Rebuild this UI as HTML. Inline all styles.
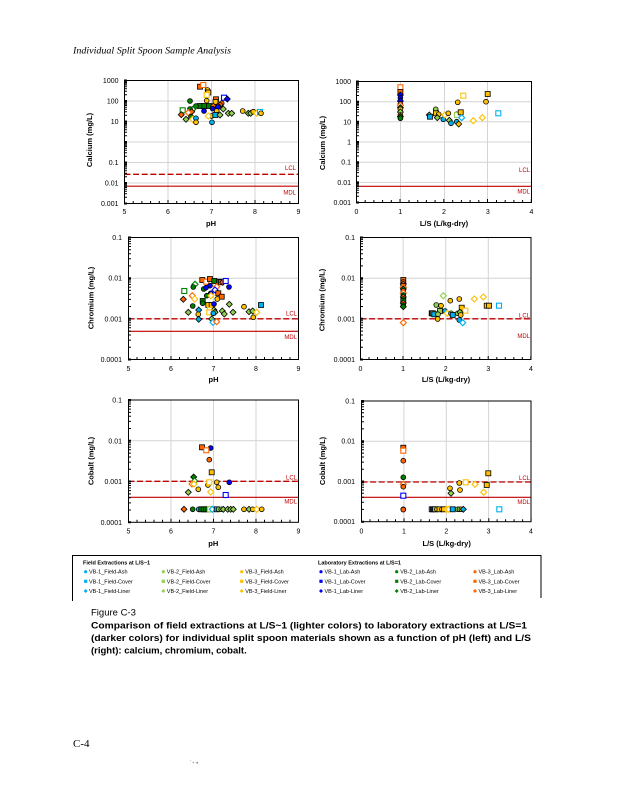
<!DOCTYPE html>
<html><head><meta charset="utf-8"><style>
html,body{margin:0;padding:0;background:#fff}
svg{display:block}
.t{font-family:"Liberation Sans",Arial,sans-serif;font-size:7px;fill:#000}
.ax{font-family:"Liberation Sans",Arial,sans-serif;font-size:7.5px;font-weight:bold;fill:#000}
.rd{font-family:"Liberation Sans",Arial,sans-serif;font-size:6px;fill:#C00000}
.lg{font-family:"Liberation Sans",Arial,sans-serif;font-size:5.5px;fill:#000}
.grid{stroke:#d4d4d4;stroke-width:1;fill:none}
.frame{fill:none;stroke:#000;stroke-width:1}
.lcl{stroke:#C00000;stroke-width:1.3;stroke-dasharray:6 2.6;fill:none}
.mdl{stroke:#C00000;stroke-width:1.2;fill:none}
.tk{stroke:#000;stroke-width:1;fill:none}
.mj{stroke:#000;stroke-width:2;fill:none}
.a{fill:#00B0F0;stroke:#000;stroke-width:.8}
.b{fill:#92D050;stroke:#000;stroke-width:.8}
.g{fill:#FFC000;stroke:#000;stroke-width:.8}
.u{fill:#0000FF;stroke:#000;stroke-width:.8}
.k{fill:#008000;stroke:#000;stroke-width:.8}
.o{fill:#FF6600;stroke:#000;stroke-width:.8}
.oa{fill:#fff;stroke:#00B0F0;stroke-width:1.1}
.ob{fill:#fff;stroke:#92D050;stroke-width:1.1}
.og{fill:#fff;stroke:#FFC000;stroke-width:1.1}
.ou{fill:#fff;stroke:#0000FF;stroke-width:1.1}
.ok{fill:#fff;stroke:#008000;stroke-width:1.1}
.oo{fill:#fff;stroke:#FF6600;stroke-width:1.1}
</style></head><body>
<svg width="618" height="800" viewBox="0 0 618 800" xmlns="http://www.w3.org/2000/svg">
<defs>
<circle id="c" r="2.4"/>
<rect id="s" x="-2.5" y="-2.5" width="5" height="5"/>
<path id="d" d="M0,-3L3,0L0,3L-3,0Z"/>
<circle id="lc" r="1.6"/>
<rect id="ls" x="-1.6" y="-1.6" width="3.2" height="3.2"/>
<path id="ld" d="M0,-2L2,0L0,2L-2,0Z"/>
<path id="m20" class="tk" d="M0,-6.2h2.5M0,-9.8h2.5M0,-12.3h2.5M0,-14.3h2.5M0,-16h2.5M0,-17.3h2.5M0,-18.5h2.5M0,-19.6h2.5"/>
<path id="m40" class="tk" d="M0,-12.3h2.5M0,-19.4h2.5M0,-24.5h2.5M0,-28.4h2.5M0,-31.7h2.5M0,-34.4h2.5M0,-36.8h2.5M0,-38.8h2.5"/>
<path id="xa" class="tk" d="M8.7,0v-2.5M17.4,0v-2.5M26.1,0v-2.5M34.8,0v-2.5M43.5,0v-3.5"/>
<path id="xb" class="tk" d="M8.5,0v-2.5M17,0v-2.5M25.5,0v-2.5M34,0v-2.5M42.5,0v-3.5"/>
</defs>

<text x="73" y="53.5" font-family="'Liberation Serif',serif" font-style="italic" font-size="9.5" textLength="158" lengthAdjust="spacingAndGlyphs">Individual Split Spoon Sample Analysis</text>

<!-- ============ TOP LEFT ============ -->
<g>
<path class="grid" d="M168,80.5V203.5M211.5,80.5V203.5M255,80.5V203.5M124.5,101H298.5M124.5,121.5H298.5M124.5,142H298.5M124.5,162.5H298.5M124.5,183H298.5"/>
<path class="lcl" d="M124.5,174.3H298.5"/>
<path class="mdl" d="M124.5,186.2H298.5"/>
<rect class="frame" x="124.5" y="80.5" width="174" height="123"/>
<use href="#m20" x="124.5" y="203.5"/><use href="#m20" x="124.5" y="183"/><use href="#m20" x="124.5" y="162.5"/><use href="#m20" x="124.5" y="142"/><use href="#m20" x="124.5" y="121.5"/><use href="#m20" x="124.5" y="101"/>
<path class="mj" d="M124,80.5h3M124,101h3M124,121.5h3M124,142h3M124,162.5h3M124,183h3M124,203.5h3"/>
<use href="#xa" x="124.5" y="203.5"/><use href="#xa" x="168" y="203.5"/><use href="#xa" x="211.5" y="203.5"/><use href="#xa" x="255" y="203.5"/>
<g class="t" text-anchor="end"><text x="118.5" y="83">1000</text><text x="118.5" y="103.5">100</text><text x="118.5" y="124">10</text><text x="118.5" y="165">0.1</text><text x="118.5" y="185.5">0.01</text><text x="118.5" y="206">0.001</text></g>
<g class="t" text-anchor="middle"><text x="124.5" y="214">5</text><text x="168" y="214">6</text><text x="211.5" y="214">7</text><text x="255" y="214">8</text><text x="298.5" y="214">9</text></g>
<text class="ax" x="211" y="226" text-anchor="middle">pH</text>
<text class="ax" transform="translate(92,140) rotate(-90)" text-anchor="middle">Calcium (mg/L)</text>
<text class="rd" x="296" y="170" text-anchor="end">LCL</text>
<text class="rd" x="296" y="194.5" text-anchor="end">MDL</text>
<use href="#s" class="o" x="200" y="86.7"/><use href="#s" class="oo" x="203.3" y="85"/>
<use href="#c" class="g" x="207.5" y="90"/><use href="#s" class="g" x="208.3" y="92.5"/><use href="#s" class="og" x="206.7" y="95"/>
<use href="#s" class="ou" x="224" y="97.7"/><use href="#d" class="u" x="227.3" y="99"/>
<use href="#c" class="k" x="190" y="101"/><use href="#c" class="g" x="206.7" y="100.7"/>
<use href="#s" class="o" x="216" y="99.3"/><use href="#s" class="g" x="215.5" y="102"/>
<use href="#c" class="o" x="221.7" y="103.3"/><use href="#c" class="o" x="220" y="105"/><use href="#d" class="o" x="218" y="106"/>
<use href="#s" class="k" x="200" y="106"/><use href="#s" class="k" x="204.3" y="106"/><use href="#s" class="k" x="209" y="106"/><use href="#c" class="k" x="196" y="106"/>
<use href="#d" class="o" x="213.3" y="106"/>
<use href="#c" class="u" x="212.7" y="108.7"/><use href="#d" class="u" x="216.5" y="108.7"/><use href="#c" class="u" x="218" y="107"/>
<use href="#d" class="b" x="223.3" y="109"/><use href="#d" class="ok" x="192.7" y="109.3"/><use href="#c" class="k" x="190" y="109"/>
<use href="#s" class="ok" x="182.7" y="110.3"/><use href="#c" class="u" x="204" y="111"/><use href="#c" class="g" x="216.7" y="111"/>
<use href="#d" class="o" x="191.7" y="111.7"/><use href="#d" class="oo" x="188.3" y="112.7"/>
<use href="#c" class="b" x="211.7" y="116"/><use href="#s" class="a" x="215.3" y="115"/><use href="#d" class="b" x="220" y="115"/><use href="#d" class="b" x="228.3" y="113.3"/><use href="#d" class="b" x="231.7" y="113.3"/>
<use href="#d" class="og" x="208.3" y="116"/>
<use href="#c" class="g" x="242.7" y="111"/><use href="#d" class="b" x="248.3" y="113.3"/><use href="#d" class="b" x="250.7" y="113.3"/>
<use href="#c" class="g" x="253.3" y="111.7"/><use href="#d" class="og" x="256.7" y="113.3"/><use href="#s" class="oa" x="260" y="112"/><use href="#c" class="g" x="261" y="113.3"/>
<use href="#d" class="o" x="181.3" y="114.7"/><use href="#c" class="k" x="191" y="116.7"/><use href="#d" class="b" x="186" y="119.3"/>
<use href="#d" class="og" x="192.7" y="119.3"/><use href="#c" class="a" x="196" y="118.3"/><use href="#c" class="g" x="196" y="122.3"/><use href="#c" class="a" x="212" y="122.3"/>
</g>

<!-- ============ TOP RIGHT ============ -->
<g>
<path class="grid" d="M400.5,81.5V202.5M444.5,81.5V202.5M487.5,81.5V202.5M356.5,101.7H531.5M356.5,121.8H531.5M356.5,142H531.5M356.5,162.2H531.5M356.5,182.4H531.5"/>
<path class="mdl" d="M356.5,186.3H531.5"/>
<rect class="frame" x="356.5" y="81.5" width="175" height="121"/>
<use href="#m20" x="356.5" y="202.5"/><use href="#m20" x="356.5" y="182.4"/><use href="#m20" x="356.5" y="162.2"/><use href="#m20" x="356.5" y="142"/><use href="#m20" x="356.5" y="121.8"/><use href="#m20" x="356.5" y="101.7"/>
<path class="mj" d="M356,81.5h3M356,101.7h3M356,121.8h3M356,142h3M356,162.2h3M356,182.4h3M356,202.5h3"/>
<use href="#xa" x="356.5" y="202.5"/><use href="#xa" x="400.3" y="202.5"/><use href="#xa" x="444" y="202.5"/><use href="#xa" x="487.8" y="202.5"/>
<g class="t" text-anchor="end"><text x="351" y="84">1000</text><text x="351" y="104.2">100</text><text x="351" y="124.3">10</text><text x="351" y="144.5">1</text><text x="351" y="164.7">0.1</text><text x="351" y="184.9">0.01</text><text x="351" y="205">0.001</text></g>
<g class="t" text-anchor="middle"><text x="356.5" y="214">0</text><text x="400.3" y="214">1</text><text x="444" y="214">2</text><text x="487.8" y="214">3</text><text x="531.5" y="214">4</text></g>
<text class="ax" x="444" y="226" text-anchor="middle">L/S (L/kg-dry)</text>
<text class="ax" transform="translate(325,143) rotate(-90)" text-anchor="middle">Calcium (mg/L)</text>
<text class="rd" x="530" y="172" text-anchor="end">LCL</text>
<text class="rd" x="530" y="193.5" text-anchor="end">MDL</text>
<use href="#s" class="oo" x="400.4" y="87.3"/><use href="#s" class="o" x="400.4" y="92"/><use href="#d" class="u" x="400.4" y="95"/><use href="#c" class="u" x="400.4" y="98"/>
<use href="#d" class="u" x="400.4" y="101"/><use href="#c" class="o" x="400.4" y="104"/><use href="#d" class="oo" x="400.4" y="105.5"/><use href="#d" class="k" x="400.4" y="107.7"/>
<use href="#c" class="g" x="400.4" y="109.3"/><use href="#d" class="b" x="400.4" y="112"/><use href="#c" class="o" x="400.4" y="115"/><use href="#d" class="k" x="400.4" y="116.7"/><use href="#c" class="k" x="400.4" y="118.3"/>
<use href="#d" class="b" x="429.3" y="115"/><use href="#s" class="a" x="430" y="116.7"/>
<use href="#c" class="b" x="435.7" y="109.3"/><use href="#s" class="g" x="436" y="113.3"/><use href="#c" class="g" x="438.7" y="114.3"/><use href="#d" class="b" x="437.3" y="117.7"/>
<use href="#c" class="a" x="443.3" y="119.3"/><use href="#d" class="og" x="445" y="115"/><use href="#c" class="g" x="448.3" y="113.3"/>
<use href="#d" class="b" x="449.3" y="120.3"/><use href="#c" class="a" x="451" y="123.3"/>
<use href="#c" class="g" x="457.7" y="102.3"/><use href="#s" class="og" x="463.3" y="95.7"/>
<use href="#c" class="b" x="456.7" y="114.3"/><use href="#s" class="ob" x="457" y="115"/><use href="#s" class="g" x="460.7" y="112.3"/>
<use href="#c" class="a" x="456.7" y="121.7"/><use href="#d" class="g" x="458.7" y="124"/><use href="#d" class="oa" x="461.7" y="117.7"/>
<use href="#d" class="og" x="473.3" y="120.7"/><use href="#d" class="og" x="482.3" y="117.7"/>
<use href="#s" class="g" x="487.7" y="94"/><use href="#c" class="g" x="486" y="101.7"/><use href="#s" class="oa" x="498.3" y="113.3"/>
</g>

<!-- ============ MIDDLE LEFT ============ -->
<g>
<path class="grid" d="M171,237.5V359.5M213.5,237.5V359.5M256,237.5V359.5M128.5,278.2H298.5M128.5,318.8H298.5"/>
<path class="lcl" d="M128.5,318.8H298.5"/>
<path class="mdl" d="M128.5,331.3H298.5"/>
<rect class="frame" x="128.5" y="237.5" width="170" height="122"/>
<use href="#m40" x="128.5" y="359.5"/><use href="#m40" x="128.5" y="318.8"/><use href="#m40" x="128.5" y="278.2"/>
<path class="mj" d="M128,237.5h3M128,278.2h3M128,318.8h3M128,359.5h3"/>
<use href="#xb" x="128.5" y="359.5"/><use href="#xb" x="171" y="359.5"/><use href="#xb" x="213.5" y="359.5"/><use href="#xb" x="256" y="359.5"/>
<g class="t" text-anchor="end"><text x="122" y="240">0.1</text><text x="122" y="280.7">0.01</text><text x="122" y="321.3">0.001</text><text x="122" y="362">0.0001</text></g>
<g class="t" text-anchor="middle"><text x="128.5" y="371">5</text><text x="171" y="371">6</text><text x="213.5" y="371">7</text><text x="256" y="371">8</text><text x="298.5" y="371">9</text></g>
<text class="ax" x="213.5" y="382" text-anchor="middle">pH</text>
<text class="ax" transform="translate(93.5,298) rotate(-90)" text-anchor="middle">Chromium (mg/L)</text>
<text class="rd" x="297" y="315.5" text-anchor="end">LCL</text>
<text class="rd" x="297" y="339" text-anchor="end">MDL</text>
<use href="#s" class="o" x="202.3" y="280"/><use href="#s" class="oo" x="206.3" y="281.7"/><use href="#s" class="o" x="210" y="279"/><use href="#s" class="k" x="214.3" y="281"/><use href="#s" class="k" x="219" y="281.7"/>
<use href="#s" class="o" x="221" y="282.3"/><use href="#d" class="o" x="222.7" y="282.3"/><use href="#s" class="ou" x="225.7" y="281"/>
<use href="#c" class="u" x="210" y="285.7"/><use href="#d" class="oo" x="216.7" y="286.7"/><use href="#d" class="ok" x="195" y="284.3"/><use href="#c" class="k" x="193.3" y="287"/>
<use href="#c" class="u" x="229" y="287"/><use href="#c" class="k" x="203.7" y="289"/><use href="#c" class="u" x="206" y="287.7"/><use href="#d" class="ou" x="215" y="290"/>
<use href="#s" class="ok" x="184.3" y="291"/><use href="#c" class="u" x="210.7" y="293.3"/><use href="#s" class="o" x="218.3" y="293.3"/>
<use href="#c" class="k" x="206.7" y="295.7"/><use href="#d" class="og" x="211" y="295.7"/><use href="#d" class="oo" x="192.3" y="295.7"/><use href="#s" class="o" x="221.7" y="296.7"/>
<use href="#d" class="og" x="194.7" y="299"/><use href="#d" class="o" x="183.3" y="299.3"/><use href="#c" class="g" x="217.3" y="299"/>
<use href="#s" class="k" x="202.7" y="301"/><use href="#c" class="k" x="202.7" y="303.3"/>
<use href="#s" class="g" x="208.3" y="305"/><use href="#s" class="g" x="211.7" y="305"/><use href="#c" class="u" x="214" y="304"/>
<use href="#c" class="k" x="192.7" y="306"/><use href="#d" class="b" x="229.3" y="304.3"/><use href="#c" class="g" x="244" y="306.7"/><use href="#s" class="a" x="261" y="305"/>
<use href="#d" class="a" x="198.7" y="310"/><use href="#s" class="og" x="210" y="310"/><use href="#d" class="b" x="214" y="310"/>
<use href="#d" class="b" x="188.3" y="312.3"/><use href="#d" class="b" x="215" y="312.3"/><use href="#d" class="b" x="222.3" y="311"/><use href="#d" class="b" x="224.3" y="314"/><use href="#d" class="b" x="233" y="312.3"/>
<use href="#s" class="og" x="209.3" y="312.3"/><use href="#c" class="a" x="213.3" y="313.3"/><use href="#c" class="g" x="198.3" y="314.3"/>
<use href="#d" class="b" x="249" y="311.7"/><use href="#d" class="b" x="252.7" y="311"/><use href="#d" class="og" x="256.7" y="312.3"/><use href="#c" class="g" x="253.3" y="317.3"/>
<use href="#d" class="b" x="211.7" y="319"/><use href="#d" class="a" x="198.7" y="319.3"/><use href="#d" class="oa" x="213" y="322.3"/><use href="#d" class="oo" x="216.7" y="321.7"/>
</g>

<!-- ============ MIDDLE RIGHT ============ -->
<g>
<path class="grid" d="M403.1,237.5V359.5M445.7,237.5V359.5M488.3,237.5V359.5M360.5,278.2H531M360.5,318.8H531"/>
<path class="lcl" d="M360.5,318.8H531"/>
<rect class="frame" x="360.5" y="237.5" width="170.5" height="122"/>
<use href="#m40" x="360.5" y="359.5"/><use href="#m40" x="360.5" y="318.8"/><use href="#m40" x="360.5" y="278.2"/>
<path class="mj" d="M360,237.5h3M360,278.2h3M360,318.8h3M360,359.5h3"/>
<use href="#xb" x="360.5" y="359.5"/><use href="#xb" x="403.1" y="359.5"/><use href="#xb" x="445.7" y="359.5"/><use href="#xb" x="488.3" y="359.5"/>
<g class="t" text-anchor="end"><text x="355" y="240">0.1</text><text x="355" y="280.7">0.01</text><text x="355" y="321.3">0.001</text><text x="355" y="362">0.0001</text></g>
<g class="t" text-anchor="middle"><text x="360.5" y="371">0</text><text x="403.1" y="371">1</text><text x="445.7" y="371">2</text><text x="488.3" y="371">3</text><text x="531" y="371">4</text></g>
<text class="ax" x="446" y="382" text-anchor="middle">L/S (L/kg-dry)</text>
<text class="ax" transform="translate(324.5,300) rotate(-90)" text-anchor="middle">Chromium (mg/L)</text>
<text class="rd" x="530" y="317.5" text-anchor="end">LCL</text>
<text class="rd" x="530" y="338" text-anchor="end">MDL</text>
<use href="#s" class="o" x="403.3" y="280"/><use href="#c" class="o" x="403.3" y="282"/><use href="#d" class="o" x="403.3" y="284"/><use href="#s" class="o" x="403.3" y="286"/>
<use href="#d" class="oo" x="403.3" y="287.5"/><use href="#d" class="k" x="403.3" y="289"/><use href="#c" class="o" x="403.3" y="291"/><use href="#d" class="oo" x="403.3" y="293"/>
<use href="#c" class="k" x="403.3" y="295"/><use href="#d" class="o" x="403.3" y="297"/><use href="#c" class="k" x="403.3" y="299"/><use href="#s" class="k" x="403.3" y="301"/>
<use href="#d" class="o" x="403.3" y="303"/><use href="#c" class="k" x="403.3" y="305"/><use href="#d" class="k" x="403.3" y="306.7"/><use href="#d" class="oo" x="403.3" y="322.7"/>
<use href="#d" class="ob" x="443.3" y="295.7"/><use href="#c" class="g" x="450.3" y="300.7"/><use href="#c" class="g" x="459.3" y="299"/>
<use href="#d" class="og" x="474.3" y="299"/><use href="#d" class="og" x="483.3" y="297"/>
<use href="#s" class="g" x="486.7" y="305.7"/><use href="#s" class="g" x="489" y="305.7"/><use href="#s" class="oa" x="499" y="305.7"/>
<use href="#c" class="b" x="436.3" y="305"/><use href="#c" class="g" x="441" y="305.7"/>
<use href="#s" class="g" x="461.7" y="307.7"/><use href="#s" class="og" x="465.3" y="310.7"/>
<use href="#s" class="b" x="440" y="311"/><use href="#c" class="a" x="445" y="311"/>
<use href="#s" class="u" x="431.7" y="313.3"/><use href="#s" class="b" x="432.8" y="313.3"/><use href="#s" class="a" x="434.3" y="314.3"/><use href="#c" class="b" x="438" y="314.3"/>
<use href="#d" class="og" x="447.3" y="313.3"/><use href="#c" class="b" x="451" y="313.3"/><use href="#s" class="a" x="452.7" y="315"/>
<use href="#c" class="b" x="457.7" y="313.3"/><use href="#d" class="b" x="460" y="312.3"/><use href="#c" class="g" x="460.7" y="315"/>
<use href="#c" class="g" x="437.7" y="319"/><use href="#c" class="a" x="459.3" y="320"/><use href="#d" class="oa" x="462.7" y="322.7"/>
</g>

<!-- ============ BOTTOM LEFT ============ -->
<g>
<path class="grid" d="M171,400V522.3M213.5,400V522.3M256,400V522.3M128.5,440.8H298.5M128.5,481.5H298.5"/>
<path class="lcl" d="M128.5,481.3H298.5"/>
<path class="mdl" d="M128.5,497.3H298.5"/>
<rect class="frame" x="128.5" y="400" width="170" height="122.3"/>
<use href="#m40" x="128.5" y="522.3"/><use href="#m40" x="128.5" y="481.5"/><use href="#m40" x="128.5" y="440.8"/>
<path class="mj" d="M128,400h3M128,440.8h3M128,481.5h3M128,522.3h3"/>
<use href="#xb" x="128.5" y="522.3"/><use href="#xb" x="171" y="522.3"/><use href="#xb" x="213.5" y="522.3"/><use href="#xb" x="256" y="522.3"/>
<g class="t" text-anchor="end"><text x="122" y="402.5">0.1</text><text x="122" y="443.3">0.01</text><text x="122" y="484">0.001</text><text x="122" y="524.8">0.0001</text></g>
<g class="t" text-anchor="middle"><text x="128.5" y="533.5">5</text><text x="171" y="533.5">6</text><text x="213.5" y="533.5">7</text><text x="256" y="533.5">8</text><text x="298.5" y="533.5">9</text></g>
<text class="ax" x="213.3" y="546" text-anchor="middle">pH</text>
<text class="ax" transform="translate(93.5,461) rotate(-90)" text-anchor="middle">Cobalt (mg/L)</text>
<text class="rd" x="297" y="479.5" text-anchor="end">LCL</text>
<text class="rd" x="297" y="503.5" text-anchor="end">MDL</text>
<use href="#s" class="o" x="202" y="447.3"/><use href="#c" class="u" x="210.7" y="448"/><use href="#s" class="oo" x="206.3" y="450.3"/>
<use href="#c" class="o" x="209.3" y="459.7"/><use href="#s" class="g" x="211.7" y="472.3"/><use href="#d" class="k" x="193.7" y="477"/>
<use href="#d" class="ok" x="194.7" y="481"/><use href="#d" class="oo" x="192" y="484"/><use href="#d" class="og" x="194" y="484"/>
<use href="#c" class="g" x="208" y="485"/><use href="#s" class="og" x="209.3" y="482.3"/><use href="#c" class="g" x="216.7" y="482.3"/><use href="#c" class="g" x="218.3" y="487.3"/>
<use href="#c" class="u" x="229.3" y="482.3"/><use href="#c" class="g" x="198.3" y="489.3"/><use href="#d" class="og" x="210.7" y="492"/><use href="#d" class="b" x="188.3" y="492.3"/><use href="#s" class="ou" x="225.7" y="495"/>
<use href="#d" class="o" x="184" y="509.3"/><use href="#c" class="k" x="192.7" y="509.3"/><use href="#c" class="a" x="198.7" y="509.3"/>
<use href="#s" class="k" x="201.3" y="509.3"/><use href="#s" class="k" x="203.7" y="509.3"/><use href="#s" class="k" x="206" y="509.3"/><use href="#s" class="k" x="208.3" y="509.3"/>
<use href="#s" class="ob" x="210" y="509.3"/><use href="#d" class="oa" x="212.3" y="509.3"/><use href="#s" class="a" x="216.7" y="509.3"/>
<use href="#c" class="b" x="218.7" y="509.3"/><use href="#c" class="b" x="221.3" y="509.3"/><use href="#d" class="b" x="223.3" y="509.3"/><use href="#d" class="b" x="227.7" y="509.3"/>
<use href="#d" class="b" x="230.7" y="509.3"/><use href="#d" class="b" x="233.3" y="509.3"/><use href="#c" class="g" x="244" y="509.3"/><use href="#d" class="b" x="249" y="509.3"/>
<use href="#c" class="g" x="252.7" y="509.3"/><use href="#d" class="og" x="256.7" y="509.3"/><use href="#c" class="g" x="261.7" y="509.3"/>
</g>

<!-- ============ BOTTOM RIGHT ============ -->
<g>
<path class="grid" d="M403.9,401V521.7M446.3,401V521.7M488.6,401V521.7M361.5,441.2H531M361.5,481.5H531"/>
<path class="lcl" d="M361.5,482H531"/>
<path class="mdl" d="M361.5,497.3H531"/>
<rect class="frame" x="361.5" y="401" width="169.5" height="120.7"/>
<use href="#m40" x="361.5" y="521.7"/><use href="#m40" x="361.5" y="481.5"/><use href="#m40" x="361.5" y="441.2"/>
<path class="mj" d="M361,401h3M361,441.2h3M361,481.5h3M361,521.7h3"/>
<use href="#xb" x="361.5" y="521.7"/><use href="#xb" x="403.9" y="521.7"/><use href="#xb" x="446.3" y="521.7"/><use href="#xb" x="488.6" y="521.7"/>
<g class="t" text-anchor="end"><text x="355" y="403.5">0.1</text><text x="355" y="443.7">0.01</text><text x="355" y="484">0.001</text><text x="355" y="524.2">0.0001</text></g>
<g class="t" text-anchor="middle"><text x="361.5" y="533.5">0</text><text x="403.9" y="533.5">1</text><text x="446.3" y="533.5">2</text><text x="488.6" y="533.5">3</text><text x="531" y="533.5">4</text></g>
<text class="ax" x="446.7" y="546" text-anchor="middle">L/S (L/kg-dry)</text>
<text class="ax" transform="translate(325,461) rotate(-90)" text-anchor="middle">Cobalt (mg/L)</text>
<text class="rd" x="530" y="480" text-anchor="end">LCL</text>
<text class="rd" x="530" y="504" text-anchor="end">MDL</text>
<use href="#s" class="o" x="403.3" y="447.7"/><use href="#s" class="oo" x="403.3" y="450.7"/><use href="#c" class="o" x="403.3" y="460.7"/><use href="#c" class="k" x="403.3" y="477.3"/>
<use href="#d" class="oo" x="403.3" y="484.3"/><use href="#c" class="o" x="403.3" y="486.7"/><use href="#s" class="ou" x="403.3" y="495.7"/><use href="#c" class="k" x="403.3" y="509.3"/><use href="#c" class="o" x="403.3" y="509.6"/>
<use href="#c" class="g" x="459.3" y="483"/><use href="#s" class="og" x="465.7" y="482.3"/><use href="#d" class="og" x="475" y="484.3"/>
<use href="#s" class="g" x="488.3" y="473.3"/><use href="#s" class="g" x="486.7" y="485"/>
<use href="#c" class="g" x="450" y="488.3"/><use href="#d" class="b" x="451" y="493.3"/><use href="#c" class="g" x="460" y="490"/><use href="#d" class="og" x="483.7" y="492.3"/>
<use href="#s" class="b" x="431.7" y="509.3"/><use href="#s" class="u" x="433" y="509.3"/><use href="#s" class="b" x="435" y="509.3"/><use href="#c" class="g" x="437" y="509.3"/>
<use href="#s" class="g" x="439.5" y="509.3"/><use href="#c" class="g" x="442" y="509.3"/><use href="#s" class="g" x="444" y="509.3"/><use href="#d" class="og" x="446.7" y="509.3"/>
<use href="#d" class="og" x="448.7" y="509.3"/><use href="#s" class="a" x="452.7" y="509.3"/><use href="#c" class="b" x="457.7" y="509.3"/><use href="#c" class="b" x="459.5" y="509.3"/>
<use href="#c" class="g" x="461.5" y="509.3"/><use href="#d" class="a" x="463.3" y="509.3"/><use href="#s" class="oa" x="499.3" y="509.3"/>
</g>

<!-- ============ LEGEND ============ -->
<path d="M72.5,601V555.5H541V598" fill="none" stroke="#000" stroke-width="1"/>
<text class="lg" x="83" y="564.5" font-weight="bold">Field Extractions at L/S~1</text>
<text class="lg" x="318" y="564.5" font-weight="bold">Laboratory Extractions at L/S=1</text>
<g>
<use href="#lc" fill="#00B0F0" x="85.7" y="571.7"/><use href="#lc" fill="#92D050" x="163.3" y="571.7"/><use href="#lc" fill="#FFC000" x="241.7" y="571.7"/>
<use href="#lc" fill="#0000FF" x="321" y="571.7"/><use href="#lc" fill="#008000" x="396.7" y="571.7"/><use href="#lc" fill="#FF6600" x="475" y="571.7"/>
<use href="#ls" fill="#00B0F0" x="85.7" y="581.3"/><use href="#ls" fill="#92D050" x="163.3" y="581.3"/><use href="#ls" fill="#FFC000" x="241.7" y="581.3"/>
<use href="#ls" fill="#0000FF" x="321" y="581.3"/><use href="#ls" fill="#008000" x="396.7" y="581.3"/><use href="#ls" fill="#FF6600" x="475" y="581.3"/>
<use href="#ld" fill="#00B0F0" x="85.7" y="591"/><use href="#ld" fill="#92D050" x="163.3" y="591"/><use href="#ld" fill="#FFC000" x="241.7" y="591"/>
<use href="#ld" fill="#0000FF" x="321" y="591"/><use href="#ld" fill="#008000" x="396.7" y="591"/><use href="#ld" fill="#FF6600" x="475" y="591"/>
</g>
<g class="lg">
<text x="89" y="573.7">VB-1_Field-Ash</text><text x="166.8" y="573.7">VB-2_Field-Ash</text><text x="245.2" y="573.7">VB-3_Field-Ash</text>
<text x="324.5" y="573.7">VB-1_Lab-Ash</text><text x="400.2" y="573.7">VB-2_Lab-Ash</text><text x="478.5" y="573.7">VB-3_Lab-Ash</text>
<text x="89" y="583.3">VB-1_Field-Cover</text><text x="166.8" y="583.3">VB-2_Field-Cover</text><text x="245.2" y="583.3">VB-3_Field-Cover</text>
<text x="324.5" y="583.3">VB-1_Lab-Cover</text><text x="400.2" y="583.3">VB-2_Lab-Cover</text><text x="478.5" y="583.3">VB-3_Lab-Cover</text>
<text x="89" y="593">VB-1_Field-Liner</text><text x="166.8" y="593">VB-2_Field-Liner</text><text x="245.2" y="593">VB-3_Field-Liner</text>
<text x="324.5" y="593">VB-1_Lab-Liner</text><text x="400.2" y="593">VB-2_Lab-Liner</text><text x="478.5" y="593">VB-3_Lab-Liner</text>
</g>

<!-- ============ CAPTION ============ -->
<g font-family="'Liberation Sans',Arial,sans-serif" font-size="9.5" fill="#000">
<text x="91" y="615.5">Figure C-3</text>
<text x="91" y="628.5" font-weight="bold" textLength="436" lengthAdjust="spacingAndGlyphs">Comparison of field extractions at L/S~1 (lighter colors) to laboratory extractions at L/S=1</text>
<text x="91" y="641" font-weight="bold" textLength="440" lengthAdjust="spacingAndGlyphs">(darker colors) for individual split spoon materials shown as a function of pH (left) and L/S</text>
<text x="91" y="653.5" font-weight="bold">(right): calcium, chromium, cobalt.</text>
</g>

<text x="73" y="747" font-family="'Liberation Serif',serif" font-size="11" fill="#000">C-4</text>
<text x="190" y="764" font-family="'Liberation Sans',sans-serif" font-size="5" fill="#999">'  ▪ ◂</text>
</svg>
</body></html>
